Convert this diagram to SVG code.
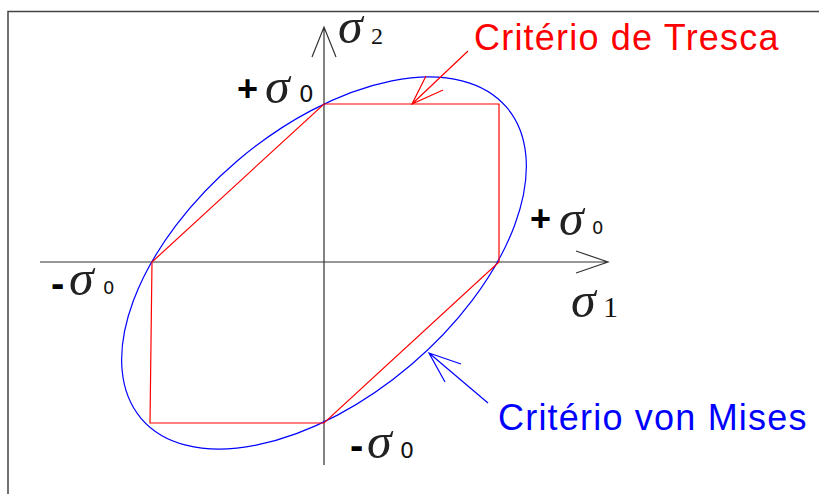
<svg xmlns="http://www.w3.org/2000/svg" width="819" height="494" viewBox="0 0 819 494">
<style>
.frame{fill:none;stroke:#444;stroke-width:1.5}
.axis{fill:none;stroke:#333;stroke-width:1.2}
.tresca{fill:none;stroke:#f00;stroke-width:1.2}
.mises{fill:none;stroke:#00f;stroke-width:1.2}
.sig{font-family:"Liberation Serif",serif;font-style:italic;font-size:50px;fill:#222}
.sub0{font-family:"DejaVu Sans",sans-serif;fill:#111}
.subn{font-family:"Liberation Serif",serif;fill:#111}
.sign{font-family:"Liberation Sans",Arial,sans-serif;font-weight:bold;fill:#000}
.lbl{font-family:"Liberation Sans",Arial,sans-serif;font-size:36px;letter-spacing:1.2px}
</style>
<rect width="819" height="494" fill="#fff"/>
<path class="frame" d="M8 494 V11.5 H819"/>
<g id="axes">
<path class="axis" d="M40 262 H608 M576 251 L608 262 L576 273"/>
<path class="axis" d="M324 465 V27 M312 57 L324 27 L336 57"/>
</g>
<g id="von-mises">
<ellipse class="mises" cx="324" cy="263" rx="240" ry="134" transform="rotate(-40.4 324 263)"/>
</g>
<g id="tresca">
<path class="tresca" d="M324 104 H499 V262 L324 423 H150 L152 262 Z"/>
</g>
<g id="connectors">
<path class="tresca" d="M468 51 L412 104 M426 76 L412 104 L443 90"/>
<path class="mises" d="M488 403 L429 353 M461 364 L429 353 L445 382"/>
</g>
<g id="label-tresca"><text class="lbl" x="474" y="50" fill="#f00">Critério de Tresca</text></g>
<g id="label-mises"><text class="lbl" x="498" y="430" fill="#00f">Critério von Mises</text></g>
<g id="label-sigma2"><text class="sig" x="338" y="43" font-size="46">σ</text><text class="subn" x="371" y="44" font-size="24">2</text></g>
<g id="label-sigma1"><text class="sig" x="571" y="317">σ</text><text class="subn" x="603" y="317" font-size="30">1</text></g>
<g id="label-top"><text class="sign" x="237" y="101" font-size="36">+</text><text class="sig" x="265" y="103">σ</text><text class="sub0" x="299" y="102" font-size="23">0</text></g>
<g id="label-right"><text class="sign" x="530" y="231" font-size="36">+</text><text class="sig" x="559" y="235">σ</text><text class="sub0" x="592" y="234" font-size="18">0</text></g>
<g id="label-left"><text class="sign" x="51" y="297" font-size="40">-</text><text class="sig" x="69" y="295">σ</text><text class="sub0" x="103" y="294" font-size="18">0</text></g>
<g id="label-bottom"><text class="sign" x="350" y="459" font-size="40">-</text><text class="sig" x="367" y="458">σ</text><text class="sub0" x="400" y="458" font-size="22">0</text></g>
</svg>
